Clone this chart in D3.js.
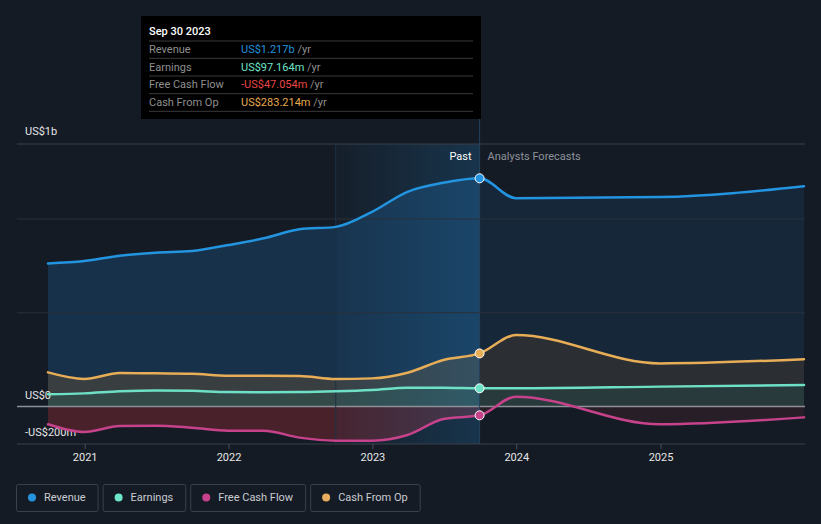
<!DOCTYPE html>
<html><head><meta charset="utf-8">
<script src="https://cdn.jsdelivr.net/npm/d3@7/dist/d3.min.js"></script>
<style>
html,body{margin:0;padding:0;background:#151b25;}
svg{display:block;font-family:Roboto,"Open Sans",sans-serif;}
</style></head><body>
<svg id="c" width="821" height="524"></svg>
<script>
// ---- data (values in US$ billions) ----
const dates = ["2020-09-30","2020-12-31","2021-03-31","2021-06-30","2021-09-30","2021-12-31","2022-03-31","2022-06-30","2022-09-30","2022-12-31","2023-03-31","2023-06-30","2023-09-30","2023-12-31","2024-12-31","2025-12-31"];
const revenue = [0.763,0.776,0.804,0.820,0.829,0.861,0.897,0.945,0.958,1.038,1.145,1.193,1.217,1.111,1.117,1.175];
const earnings = [0.065,0.070,0.081,0.086,0.084,0.077,0.076,0.077,0.081,0.088,0.100,0.100,0.097,0.097,0.106,0.115];
const freeCashFlow = [-0.095,-0.136,-0.104,-0.102,-0.113,-0.129,-0.129,-0.166,-0.182,-0.182,-0.152,-0.067,-0.047,0.052,-0.095,-0.058];
const cashFromOp = [0.182,0.147,0.179,0.177,0.175,0.164,0.164,0.163,0.147,0.150,0.180,0.248,0.283,0.381,0.230,0.252];
const yTicks = [-0.2, 0, 0.5, 1, 1.4];
const yLabels = [{v:1.4,t:"US$1b"},{v:0,t:"US$0"},{v:-0.2,t:"-US$200m"}];
const xTickYears = [2021,2022,2023,2024,2025];
const tooltipRows = [
  {label:"Revenue", value:"US$1.217b", color:"#2394df"},
  {label:"Earnings", value:"US$97.164m", color:"#6fe3c8"},
  {label:"Free Cash Flow", value:"-US$47.054m", color:"#e84545"},
  {label:"Cash From Op", value:"US$283.214m", color:"#e8a950"}
];
const legendItems = [
  {label:"Revenue", color:"#2394df"},
  {label:"Earnings", color:"#6ee6cc"},
  {label:"Free Cash Flow", color:"#c6428a"},
  {label:"Cash From Op", color:"#e8ad5e"}
];
const nowDate = "2023-09-30", bandStart = "2022-09-30";

const parse = d3.utcParse("%Y-%m-%d");
const D = dates.map(parse);
const svg = d3.select("#c");
const x = d3.scaleUtc().domain([parse("2020-09-30"), parse("2025-12-31")]).range([48, 804]);
const y = d3.scaleLinear().domain([-0.2, 1.4]).range([444, 144]);
const xNow = x(parse(nowDate)), xBand = x(parse(bandStart));

const defs = svg.append("defs");
defs.append("clipPath").attr("id","past").append("rect").attr("x",0).attr("y",0).attr("width",xNow).attr("height",524);
defs.append("clipPath").attr("id","fut").append("rect").attr("x",xNow).attr("y",0).attr("width",821-xNow).attr("height",524);
const g = defs.append("linearGradient").attr("id","band").attr("x1","0").attr("x2","1").attr("y1","0").attr("y2","0");
g.append("stop").attr("offset","0").attr("stop-color","#2394df").attr("stop-opacity",0.03);
g.append("stop").attr("offset","1").attr("stop-color","#2394df").attr("stop-opacity",0.21);

const series = [
  {vals:revenue, line:"#2394df", past:"#18314a", fut:"#16273a"},
  {vals:cashFromOp, line:"#e8ad57", past:"#393e40", fut:"#2b2f33"},
  {vals:freeCashFlow, line:"#c6428a", past:"#48212b", fut:"#281e28"},
  {vals:earnings, line:"#6ee0c6", past:"#334a48", fut:"#283a3c"}
];
const curve = d3.curveMonotoneX;
const area = v => d3.area().curve(curve).x((d,i)=>x(D[i])).y0(y(0)).y1(d=>y(d))(v);
const line = v => d3.line().curve(curve).x((d,i)=>x(D[i])).y(d=>y(d))(v);

series.forEach(s=>{
  svg.append("path").attr("d",area(s.vals)).attr("fill",s.past).attr("clip-path","url(#past)");
  svg.append("path").attr("d",area(s.vals)).attr("fill",s.fut).attr("clip-path","url(#fut)");
});

// highlight band
svg.append("rect").attr("x",xBand).attr("y",144).attr("width",xNow-xBand).attr("height",300).attr("fill","url(#band)");

// gridlines
yTicks.forEach(v=>{
  if (v===0) return;
  svg.append("line").attr("x1",17).attr("x2",805).attr("y1",y(v)).attr("y2",y(v))
    .attr("stroke", (v===1.4||v===-0.2) ? "#3a404b" : "#2a303a").attr("stroke-width",1);
});
svg.append("line").attr("x1",17).attr("x2",805).attr("y1",y(0)).attr("y2",y(0)).attr("stroke","#8d9096").attr("stroke-width",1.6);

// vertical lines
svg.append("line").attr("x1",xBand).attr("x2",xBand).attr("y1",144).attr("y2",444).attr("stroke","#1d3246").attr("stroke-width",1);
svg.append("line").attr("x1",xNow).attr("x2",xNow).attr("y1",119).attr("y2",444).attr("stroke","#24425e").attr("stroke-width",1);

// x axis
const xa = svg.append("g").attr("transform","translate(0,444)")
  .call(d3.axisBottom(x).tickValues(xTickYears.map(yr=>new Date(Date.UTC(yr,0,1)))).tickFormat(d3.utcFormat("%Y")).tickSize(5).tickSizeOuter(0));
xa.select(".domain").remove();
xa.selectAll(".tick line").attr("stroke","#4a505a");
xa.selectAll(".tick text").attr("fill","#e6e6e6").attr("font-size","11px").attr("dy","0.8em").attr("font-family","Roboto,sans-serif");

// y labels
yLabels.forEach(l=>{
  svg.append("text").attr("x",25).attr("y",y(l.v) + (l.v===1.4 ? -13 : (l.v===0 ? -11 : -12))).attr("dy","0.35em")
    .attr("fill","#e6e6e6").attr("font-size","11px").text(l.t);
});

// lines
series.forEach(s=>{
  svg.append("path").attr("d",line(s.vals)).attr("fill","none").attr("stroke",s.line).attr("stroke-width",2.5).attr("stroke-linecap","round");
});

// markers at now
const ni = dates.indexOf(nowDate);
series.forEach(s=>{
  svg.append("circle").attr("cx",x(D[ni])).attr("cy",y(s.vals[ni])).attr("r",4.5).attr("fill",s.line).attr("stroke","#ffffff").attr("stroke-width",1);
});

// past / forecast labels
svg.append("text").attr("x",xNow-8).attr("y",156).attr("dy","0.35em").attr("text-anchor","end").attr("fill","#ffffff").attr("font-size","11px").text("Past");
svg.append("text").attr("x",xNow+8).attr("y",156).attr("dy","0.35em").attr("fill","#8c9199").attr("font-size","11px").text("Analysts Forecasts");

// tooltip
const tt = svg.append("g");
tt.append("rect").attr("x",141).attr("y",16).attr("width",340).attr("height",103).attr("fill","#000000");
tt.append("text").attr("x",149).attr("y",31).attr("dy","0.35em").attr("fill","#ffffff").attr("font-size","11px").attr("font-weight",500).text("Sep 30 2023");
[41,58.3,76,93.7,111.3].forEach(yy=>{
  tt.append("line").attr("x1",149).attr("x2",473).attr("y1",yy).attr("y2",yy).attr("stroke","#3a3a3a").attr("stroke-width",1);
});
tooltipRows.forEach((r,i)=>{
  const yy = [49.3,66.7,84.3,101.7][i];
  tt.append("text").attr("x",149).attr("y",yy).attr("dy","0.35em").attr("fill","#8f8f8f").attr("font-size","11px").text(r.label);
  const t = tt.append("text").attr("x",241).attr("y",yy).attr("dy","0.35em").attr("font-size","11px");
  t.append("tspan").attr("fill",r.color).text(r.value);
  t.append("tspan").attr("fill","#8f8f8f").text(" /yr");
});

// legend
const lg = svg.append("g");
let lx = 16;
legendItems.forEach(it=>{
  const gi = lg.append("g").attr("transform",`translate(${lx},484)`);
  const txt = gi.append("text").attr("x",28).attr("y",13.5).attr("dy","0.35em").attr("fill","#c9ccd1").attr("font-size","11px").text(it.label);
  const w = txt.node().getComputedTextLength() + 28 + 12;
  gi.insert("rect","text").attr("x",0.5).attr("y",0.5).attr("width",w).attr("height",27).attr("rx",2).attr("fill","none").attr("stroke","#3b404a");
  gi.append("circle").attr("cx",16).attr("cy",13.5).attr("r",4).attr("fill",it.color);
  lx += w + 5;
});
</script>
</body></html>
